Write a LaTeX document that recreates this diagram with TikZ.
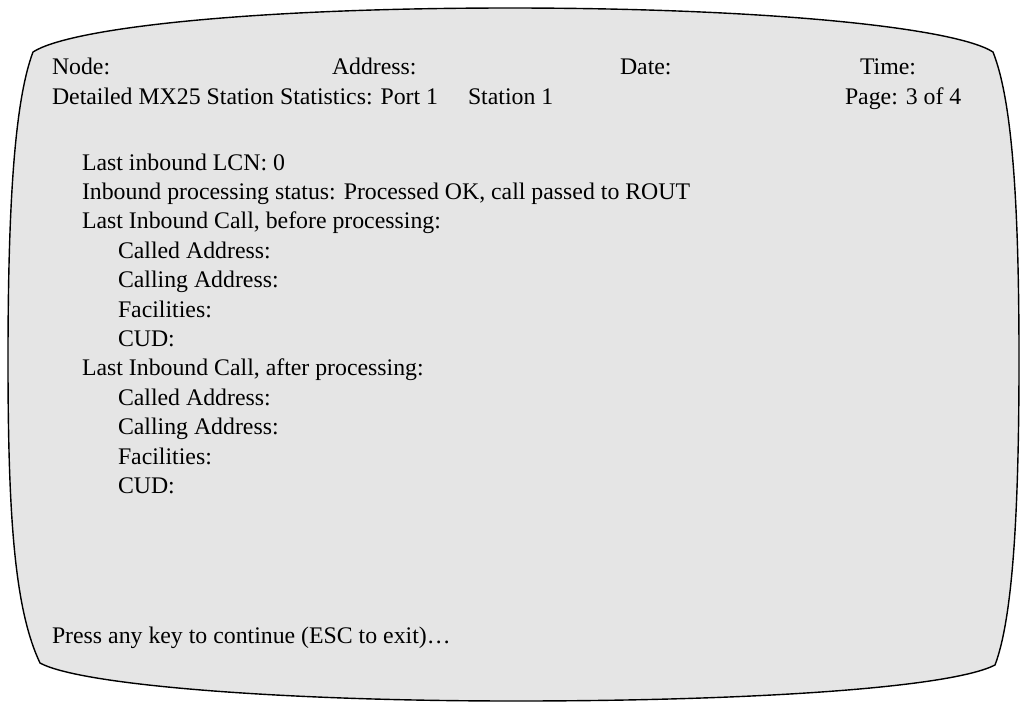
\documentclass[tikz,border=0pt]{standalone}
\usepackage{fontspec}
\setmainfont{Liberation Serif}
\begin{document}
\begin{tikzpicture}[x=1pt,y=-1pt,
  txt/.style={anchor=base west,inner sep=0pt,outer sep=0pt,font=\fontsize{23.8}{29}\selectfont},
  screen/.style={draw=black,fill=black!10,line width=1.4pt,line join=round}]
\useasboundingbox (0,0) rectangle (1020,702);
\path[screen] (33,52) .. controls (70,28) and (250,8) .. (510,8)
  .. controls (770,8) and (956,28) .. (993,52)
  .. controls (1012,100) and (1019,200) .. (1019,360)
  .. controls (1019,520) and (1012,620) .. (995,665)
  .. controls (950,688) and (750,701) .. (515,701)
  .. controls (280,701) and (80,685) .. (40,663)
  .. controls (15,610) and (8,520) .. (8,360)
  .. controls (8,200) and (15,100) .. cycle;
\node[txt] (node) at (52,74) {Node:};
\node[txt] (addr) at (332,74) {Address:};
\node[txt] (date) at (620,74) {Date:};
\node[txt] (time) at (860,74) {Time:};
\node[txt] (title) at (52,104) {Detailed MX25 Station Statistics: Port 1};
\node[txt] (stn) at (468,104) {Station 1};
\node[txt] (page) at (845,104) {Page: 3 of 4};
\node[txt] (l1) at (82,170) {Last inbound LCN: 0};
\node[txt] (l2) at (82,199.4) {Inbound processing status: Processed OK, call passed to ROUT};
\node[txt] (l3) at (82,228.8) {Last Inbound Call, before processing:};
\node[txt] (l4) at (118,258.2) {Called Address:};
\node[txt] (l5) at (118,287.6) {Calling Address:};
\node[txt] (l6) at (118,317) {Facilities:};
\node[txt] (l7) at (118,346.4) {CUD:};
\node[txt] (l8) at (82,375.8) {Last Inbound Call, after processing:};
\node[txt] (l9) at (118,405.2) {Called Address:};
\node[txt] (l10) at (118,434.6) {Calling Address:};
\node[txt] (l11) at (118,464) {Facilities:};
\node[txt] (l12) at (118,493.4) {CUD:};
\node[txt] (press) at (52,643) {Press any key to continue (ESC to exit)…};
\end{tikzpicture}
\end{document}
